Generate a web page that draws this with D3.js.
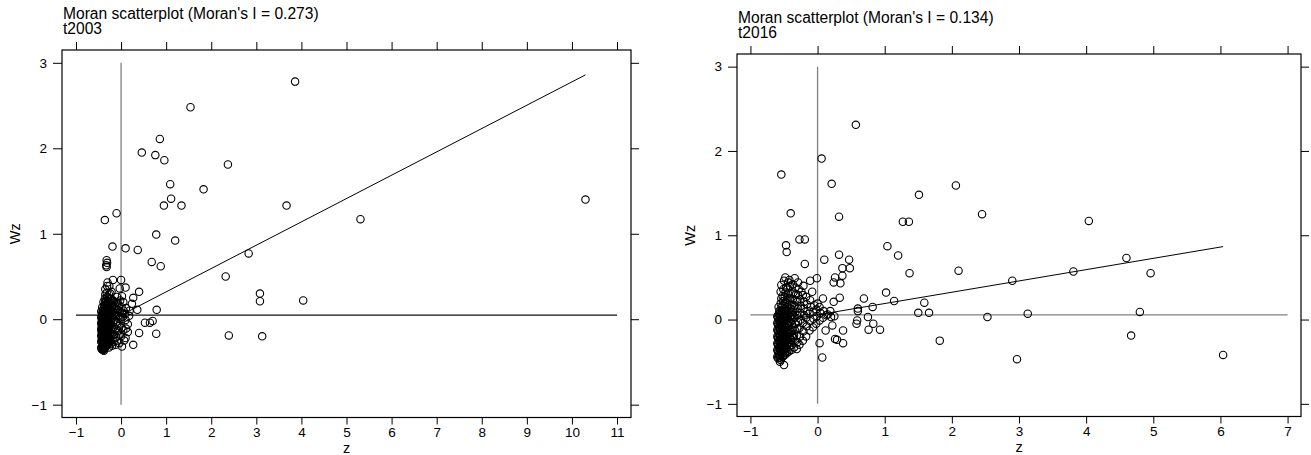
<!DOCTYPE html>
<html>
<head>
<meta charset="utf-8">
<script src="https://cdn.jsdelivr.net/npm/d3@7"></script>
<style>
  html, body { margin: 0; padding: 0; background: #fff; }
  svg { display: block; font-family: "Liberation Sans", Arial, sans-serif; }
</style>
</head>
<body>
<svg id="chart" width="1311" height="455"></svg>
<script>
/* Two Moran scatterplots (lattice style): z against spatially lagged Wz,
   with mean reference lines and the regression line whose slope is Moran's I. */

const years = ["t2003", "t2016"];
const moransI = [0.273, 0.134];
const meanWz = [0.047, 0.056];
const xTicks = [d3.range(-1, 12), d3.range(-1, 8)];
const yTicks = [-1, 0, 1, 2, 3];

// [z, Wz]; the dense cluster near the origin is estimated
const pts2003 = [
  [3.86,2.78],[1.54,2.48],[0.86,2.11],[0.46,1.95],[0.76,1.92],[0.96,1.86],[2.37,1.81],[1.09,1.58],
  [1.83,1.52],[1.11,1.41],[0.95,1.33],[1.34,1.33],[3.67,1.33],[5.31,1.17],[10.3,1.40],[0.78,0.99],
  [1.20,0.92],[-0.36,1.16],[-0.10,1.24],[2.83,0.77],[2.32,0.50],[3.08,0.30],[3.08,0.21],[4.04,0.22],
  [2.39,-0.19],[3.13,-0.20],[-0.19,0.85],[0.10,0.83],[0.37,0.81],[0.68,0.67],[0.88,0.62],[-0.32,0.69],
  [-0.31,0.66],[-0.33,0.63],[-0.32,0.61],[-0.18,0.46],[0.00,0.46],[0.10,0.37],[0.40,0.32],[0.27,0.25],
  [0.24,0.18],[0.36,0.11],[0.79,0.11],[0.78,-0.17],[0.53,-0.04],[0.64,-0.04],[0.70,-0.02],[0.40,-0.16],
  [0.27,-0.30],[0.02,-0.32],[0.07,-0.25],[0.15,-0.15],[0.15,-0.06],[-0.38,-0.37],
  [-0.43,-0.35],[-0.42,-0.31],[-0.43,-0.27],[-0.42,-0.24],[-0.43,-0.21],[-0.42,-0.18],[-0.43,-0.15],[-0.42,-0.12],
  [-0.43,-0.09],[-0.42,-0.06],[-0.43,-0.03],[-0.42,0.00],[-0.43,0.03],[-0.42,0.06],[-0.41,0.10],[-0.42,0.14],
  [-0.40,-0.36],[-0.39,-0.33],[-0.40,-0.29],[-0.39,-0.26],[-0.40,-0.23],[-0.39,-0.20],[-0.40,-0.17],[-0.39,-0.14],
  [-0.40,-0.11],[-0.39,-0.08],[-0.40,-0.05],[-0.39,-0.02],[-0.40,0.01],[-0.39,0.04],[-0.40,0.08],[-0.39,0.12],
  [-0.38,0.16],[-0.39,0.20],
  [-0.37,-0.34],[-0.36,-0.30],[-0.37,-0.27],[-0.36,-0.24],[-0.37,-0.21],[-0.36,-0.18],[-0.37,-0.15],[-0.36,-0.12],
  [-0.37,-0.09],[-0.36,-0.06],[-0.37,-0.03],[-0.36,0.00],[-0.37,0.03],[-0.36,0.07],[-0.35,0.11],[-0.36,0.15],
  [-0.35,0.19],[-0.36,0.24],[-0.35,0.29],[-0.35,0.35],
  [-0.34,-0.32],[-0.33,-0.28],[-0.34,-0.25],[-0.33,-0.22],[-0.34,-0.19],[-0.33,-0.16],[-0.34,-0.13],[-0.33,-0.10],
  [-0.34,-0.07],[-0.33,-0.04],[-0.34,-0.01],[-0.33,0.02],[-0.34,0.05],[-0.33,0.09],[-0.32,0.13],[-0.33,0.17],
  [-0.32,0.21],[-0.31,0.26],[-0.32,0.31],[-0.31,0.39],[-0.30,0.43],
  [-0.30,-0.30],[-0.29,-0.26],[-0.30,-0.23],[-0.29,-0.20],[-0.30,-0.17],[-0.29,-0.14],[-0.30,-0.11],[-0.29,-0.08],
  [-0.30,-0.05],[-0.29,-0.02],[-0.30,0.01],[-0.29,0.04],[-0.30,0.08],[-0.29,0.12],[-0.28,0.16],[-0.29,0.20],
  [-0.28,0.25],[-0.27,0.29],
  [-0.27,-0.33],[-0.26,-0.27],[-0.27,-0.22],[-0.26,-0.18],[-0.27,-0.14],[-0.26,-0.10],[-0.27,-0.06],[-0.26,-0.02],
  [-0.25,0.02],[-0.26,0.06],[-0.25,0.10],[-0.26,0.15],[-0.25,0.20],[-0.24,0.30],[-0.26,0.39],
  [-0.23,-0.29],[-0.24,-0.24],[-0.23,-0.19],[-0.22,-0.13],[-0.23,-0.08],[-0.22,-0.03],[-0.23,0.03],[-0.22,0.08],
  [-0.21,0.13],[-0.22,0.19],[-0.21,0.24],
  [-0.20,-0.31],[-0.19,-0.24],[-0.20,-0.17],[-0.19,-0.11],[-0.18,-0.04],[-0.19,0.02],[-0.18,0.09],[-0.19,0.16],
  [-0.20,0.22],[-0.21,0.32],
  [-0.16,-0.26],[-0.15,-0.18],[-0.16,-0.09],[-0.15,-0.01],[-0.14,0.07],[-0.15,0.14],[-0.16,0.21],
  [-0.12,-0.30],[-0.11,-0.21],[-0.12,-0.12],[-0.11,-0.03],[-0.10,0.05],[-0.11,0.12],[-0.12,0.20],[-0.09,0.26],
  [-0.08,-0.25],[-0.07,-0.14],[-0.08,-0.05],[-0.06,0.04],[-0.07,0.11],[-0.08,0.19],
  [-0.04,-0.28],[-0.03,-0.18],[-0.04,-0.08],[-0.02,0.02],[-0.03,0.09],[-0.04,0.16],[-0.02,0.22],[-0.03,0.36],
  [0.00,-0.20],[0.01,-0.10],[0.00,0.00],[0.02,0.08],[0.01,0.14],[0.02,0.27],
  [0.05,-0.13],[0.04,0.03],[0.06,0.10],[0.05,0.20],
  [0.10,-0.22],[0.11,-0.11],[0.10,-0.01],[0.09,0.06],[0.11,0.13],
  [0.18,0.04],[0.19,0.10],
  [-0.44,-0.33],[-0.44,-0.26],[-0.44,-0.19],[-0.44,-0.12],[-0.44,-0.05],[-0.44,0.02],[-0.44,0.09],
  [-0.41,-0.345],[-0.41,-0.28],[-0.41,-0.22],[-0.41,-0.16],[-0.41,-0.10],[-0.41,-0.04],[-0.41,0.02],[-0.41,0.06],
  [-0.38,-0.35],[-0.38,-0.31],[-0.38,-0.25],[-0.38,-0.19],[-0.38,-0.13],[-0.38,-0.07],[-0.38,-0.01],[-0.38,0.05],
  [-0.38,0.10],[-0.35,-0.33],[-0.35,-0.26],[-0.35,-0.20],[-0.35,-0.14],[-0.35,-0.08],[-0.35,-0.02],[-0.35,0.04],
  [-0.34,0.21],[-0.32,-0.30],[-0.32,-0.24],[-0.32,-0.18],[-0.32,-0.12],[-0.32,-0.06],[-0.32,0.00],[-0.31,0.07],
  [-0.31,0.17],[-0.28,-0.28],[-0.28,-0.21],[-0.28,-0.12],[-0.28,-0.04],[-0.28,0.04],[-0.27,0.11],
  [-0.24,-0.16],[-0.24,-0.06],[-0.24,0.05],[-0.24,0.14]
];

const pts2016 = [
  [0.57,2.31],[0.06,1.91],[-0.54,1.72],[0.21,1.61],[2.06,1.59],[1.51,1.48],[2.45,1.25],[-0.40,1.26],
  [0.32,1.22],[1.27,1.16],[1.36,1.16],[4.04,1.17],[-0.27,0.95],[-0.19,0.95],[-0.47,0.88],[-0.46,0.80],
  [1.04,0.87],[1.20,0.76],[0.32,0.77],[0.10,0.71],[0.47,0.71],[-0.19,0.66],[0.48,0.61],[0.37,0.61],
  [0.37,0.52],[1.37,0.55],[2.10,0.58],[4.60,0.73],[3.81,0.57],[4.96,0.55],[2.90,0.46],[0.26,0.50],
  [0.24,0.44],[0.34,0.43],[-0.01,0.49],[-0.11,0.46],[1.02,0.32],[-0.08,0.33],[0.33,0.26],[0.08,0.25],
  [0.69,0.25],[1.14,0.22],[1.59,0.20],[0.24,0.21],[0.00,0.19],[0.82,0.15],[0.60,0.13],[0.60,0.10],
  [1.50,0.08],[1.66,0.08],[2.53,0.03],[3.13,0.07],[4.80,0.09],[0.19,0.10],[0.75,0.03],[0.59,-0.01],
  [0.58,-0.05],[0.83,-0.05],[0.76,-0.12],[0.93,-0.12],[0.38,-0.13],[0.22,-0.07],[0.12,-0.13],[0.26,-0.23],
  [0.29,-0.24],[0.38,-0.28],[0.03,-0.28],[1.82,-0.25],[4.67,-0.19],[2.97,-0.47],[6.04,-0.42],[0.07,-0.45],
  [-0.50,-0.54],[-0.56,-0.50],[0.15,0.06],[0.20,0.03],[0.25,0.04],
  [-0.59,-0.46],[-0.58,-0.42],[-0.59,-0.38],[-0.58,-0.34],[-0.59,-0.30],[-0.58,-0.26],[-0.59,-0.22],[-0.58,-0.18],
  [-0.59,-0.14],[-0.58,-0.10],[-0.59,-0.06],[-0.58,-0.02],[-0.59,0.02],[-0.58,0.06],[-0.57,0.10],[-0.58,0.15],
  [-0.55,-0.48],[-0.56,-0.43],[-0.55,-0.39],[-0.56,-0.35],[-0.55,-0.31],[-0.56,-0.27],[-0.55,-0.23],[-0.56,-0.19],
  [-0.55,-0.15],[-0.56,-0.11],[-0.55,-0.07],[-0.56,-0.03],[-0.55,0.01],[-0.56,0.05],[-0.55,0.09],[-0.54,0.14],
  [-0.55,0.19],[-0.54,0.25],[-0.55,0.33],[-0.54,0.41],
  [-0.52,-0.44],[-0.53,-0.40],[-0.52,-0.36],[-0.53,-0.32],[-0.52,-0.28],[-0.53,-0.24],[-0.52,-0.20],[-0.53,-0.16],
  [-0.52,-0.12],[-0.53,-0.08],[-0.52,-0.04],[-0.53,0.00],[-0.52,0.04],[-0.53,0.08],[-0.51,0.12],[-0.52,0.17],
  [-0.51,0.22],[-0.52,0.28],[-0.51,0.36],[-0.50,0.46],
  [-0.49,-0.42],[-0.50,-0.37],[-0.49,-0.33],[-0.50,-0.29],[-0.49,-0.25],[-0.50,-0.21],[-0.49,-0.17],[-0.50,-0.13],
  [-0.49,-0.09],[-0.50,-0.05],[-0.49,-0.01],[-0.50,0.03],[-0.49,0.07],[-0.48,0.11],[-0.49,0.16],[-0.48,0.21],
  [-0.49,0.27],[-0.48,0.32],[-0.47,0.38],[-0.48,0.50],
  [-0.46,-0.40],[-0.47,-0.35],[-0.46,-0.30],[-0.47,-0.26],[-0.46,-0.22],[-0.47,-0.18],[-0.46,-0.14],[-0.47,-0.10],
  [-0.46,-0.06],[-0.47,-0.02],[-0.46,0.02],[-0.45,0.06],[-0.46,0.10],[-0.45,0.15],[-0.46,0.20],[-0.45,0.26],
  [-0.44,0.31],[-0.45,0.37],[-0.44,0.44],
  [-0.43,-0.38],[-0.42,-0.32],[-0.43,-0.27],[-0.42,-0.22],[-0.43,-0.17],[-0.42,-0.12],[-0.43,-0.07],[-0.42,-0.02],
  [-0.41,0.03],[-0.42,0.08],[-0.41,0.13],[-0.42,0.18],[-0.41,0.24],[-0.40,0.30],[-0.41,0.40],[-0.42,0.47],
  [-0.39,-0.36],[-0.38,-0.30],[-0.39,-0.24],[-0.38,-0.18],[-0.39,-0.12],[-0.38,-0.06],[-0.37,0.00],[-0.38,0.06],
  [-0.37,0.12],[-0.38,0.18],[-0.37,0.24],[-0.36,0.32],[-0.37,0.42],
  [-0.35,-0.33],[-0.34,-0.26],[-0.35,-0.19],[-0.34,-0.12],[-0.33,-0.05],[-0.34,0.02],[-0.33,0.09],[-0.34,0.16],
  [-0.33,0.23],[-0.32,0.30],[-0.33,0.38],[-0.34,0.49],
  [-0.31,-0.35],[-0.30,-0.27],[-0.31,-0.19],[-0.30,-0.11],[-0.29,-0.03],[-0.30,0.05],[-0.29,0.13],[-0.30,0.21],
  [-0.29,0.29],[-0.28,0.36],[-0.29,0.44],
  [-0.27,-0.30],[-0.26,-0.20],[-0.27,-0.10],[-0.25,0.00],[-0.26,0.08],[-0.25,0.16],[-0.26,0.24],[-0.24,0.33],
  [-0.22,-0.25],[-0.21,-0.14],[-0.22,-0.04],[-0.20,0.05],[-0.21,0.13],[-0.20,0.21],[-0.22,0.29],[-0.21,0.40],
  [-0.17,-0.20],[-0.16,-0.08],[-0.17,0.02],[-0.15,0.10],[-0.16,0.18],[-0.17,0.27],
  [-0.12,-0.13],[-0.11,-0.02],[-0.12,0.07],[-0.10,0.15],[-0.11,0.23],
  [-0.07,-0.09],[-0.06,0.01],[-0.07,0.09],[-0.05,0.17],
  [-0.02,-0.05],[-0.01,0.04],[-0.02,0.12],
  [0.03,-0.01],[0.04,0.08],[0.03,0.15],
  [0.08,0.02],[0.09,0.10],
  [0.13,0.05],
  [-0.60,-0.44],[-0.60,-0.36],[-0.60,-0.28],[-0.60,-0.20],[-0.60,-0.12],[-0.60,-0.04],[-0.60,0.04],
  [-0.57,-0.45],[-0.57,-0.40],[-0.57,-0.32],[-0.57,-0.24],[-0.57,-0.16],[-0.57,-0.08],[-0.57,0.00],[-0.57,0.07],
  [-0.54,-0.46],[-0.54,-0.38],[-0.54,-0.30],[-0.54,-0.22],[-0.54,-0.14],[-0.54,-0.06],[-0.54,0.03],[-0.53,0.11],
  [-0.51,-0.43],[-0.51,-0.35],[-0.51,-0.27],[-0.51,-0.19],[-0.51,-0.11],[-0.51,-0.03],[-0.51,0.06],
  [-0.48,-0.39],[-0.48,-0.31],[-0.48,-0.23],[-0.48,-0.15],[-0.48,-0.07],[-0.48,0.01],[-0.47,0.08],
  [-0.45,-0.37],[-0.45,-0.28],[-0.45,-0.20],[-0.45,-0.12],[-0.45,-0.04],[-0.44,0.04],
  [-0.40,-0.27],[-0.40,-0.15],[-0.40,-0.03],[-0.40,0.09],[-0.36,-0.22],[-0.36,-0.09],[-0.36,0.05]
];

const svg = d3.select("#chart");

// panel boxes in page pixels plus the axis limits lattice chose
const panels = [
  { pts: pts2003, box: [62, 50, 631, 417.5], xlim: [-1.31, 11.31], ylim: [-1.15, 3.15], hCol: "#111" },
  { pts: pts2016, box: [737, 54, 1301, 416.5], xlim: [-1.2, 7.2], ylim: [-1.15, 3.15], hCol: "#808080" }
];

panels.forEach((p, i) => {
  const [x0, y0, x1, y1] = p.box;
  const x = d3.scaleLinear().domain(p.xlim).range([x0, x1]);
  const y = d3.scaleLinear().domain(p.ylim).range([y1, y0]);
  const g = svg.append("g");
  const xt = xTicks[i];

  // axes: labels bottom/left, bare ticks top/right
  const styleAxis = sel => {
    sel.select(".domain").remove();
    sel.selectAll("line").attr("stroke", "#000");
    sel.selectAll("text").attr("fill", "#000").attr("font-size", 13.5)
       .attr("font-family", "'Liberation Sans', Arial, sans-serif");
  };
  g.append("g").attr("transform", `translate(0,${y1})`)
    .call(d3.axisBottom(x).tickValues(xt).tickSize(7).tickPadding(3).tickFormat(d3.format("d")))
    .call(styleAxis);
  g.append("g").attr("transform", `translate(0,${y0})`)
    .call(d3.axisTop(x).tickValues(xt).tickSize(8).tickFormat(""))
    .call(styleAxis);
  g.append("g").attr("transform", `translate(${x0},0)`)
    .call(d3.axisLeft(y).tickValues(yTicks).tickSize(9).tickPadding(6).tickFormat(d3.format("d")))
    .call(styleAxis);
  g.append("g").attr("transform", `translate(${x1},0)`)
    .call(d3.axisRight(y).tickValues(yTicks).tickSize(8).tickFormat(""))
    .call(styleAxis);

  g.append("rect").attr("x", x0).attr("y", y0)
    .attr("width", x1 - x0).attr("height", y1 - y0)
    .attr("fill", "none").attr("stroke", "#000").attr("stroke-width", 1.2);

  // mean reference lines
  g.append("line")
    .attr("x1", x(0)).attr("x2", x(0))
    .attr("y1", y(d3.min(yTicks))).attr("y2", y(d3.max(yTicks)))
    .attr("stroke", "#808080").attr("stroke-width", 1.3);
  g.append("line")
    .attr("x1", x(d3.min(xt))).attr("x2", x(d3.max(xt)))
    .attr("y1", y(meanWz[i])).attr("y2", y(meanWz[i]))
    .attr("stroke", p.hCol).attr("stroke-width", 1.3);

  // points
  g.append("g").selectAll("circle").data(p.pts).join("circle")
    .attr("cx", d => x(d[0])).attr("cy", d => y(d[1])).attr("r", 3.7)
    .attr("fill", "none").attr("stroke", "#000").attr("stroke-width", 1.1);

  // regression line: slope = Moran's I, through (0, mean Wz)
  const ext = d3.extent(p.pts, d => d[0]);
  g.append("line")
    .attr("x1", x(ext[0])).attr("y1", y(meanWz[i] + moransI[i] * ext[0]))
    .attr("x2", x(ext[1])).attr("y2", y(meanWz[i] + moransI[i] * ext[1]))
    .attr("stroke", "#000").attr("stroke-width", 1);

  // titles and axis names
  g.append("text").attr("x", x0 + 1).attr("y", y0 - 31)
    .attr("font-size", 15.6).text(`Moran scatterplot (Moran's I = ${moransI[i]})`);
  g.append("text").attr("x", x0 + 1).attr("y", y0 - 16)
    .attr("font-size", 15.6).text(years[i]);
  g.append("text").attr("x", (x0 + x1) / 2).attr("y", y1 + 35)
    .attr("text-anchor", "middle").attr("font-size", 14.5).text("z");
  g.append("text")
    .attr("transform", `translate(${x0 - 42},${(y0 + y1) / 2}) rotate(-90)`)
    .attr("text-anchor", "middle").attr("font-size", 14.5).text("Wz");
});
</script>
</body>
</html>
